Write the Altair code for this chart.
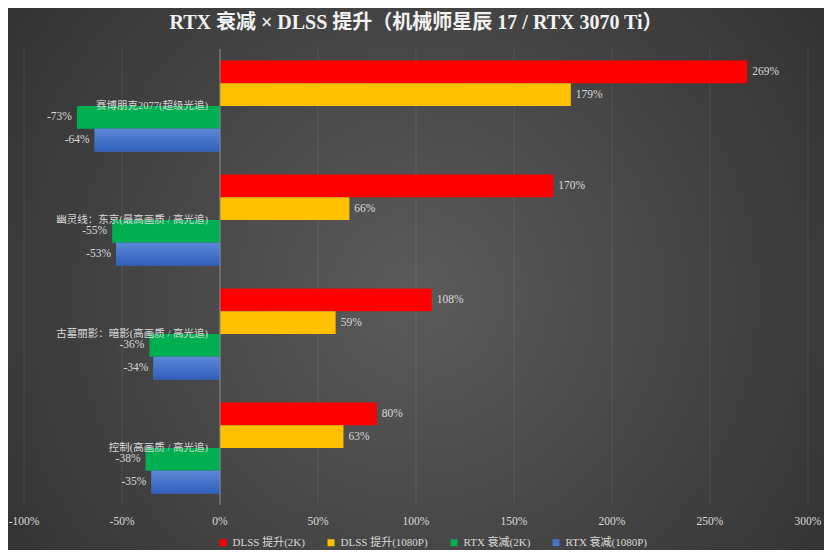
import altair as alt
import pandas as pd

title_text = "RTX 衰减 × DLSS 提升（机械师星辰 17 / RTX 3070 Ti）"
categories = [
    "赛博朋克2077(超级光追)",
    "幽灵线：东京(最高画质 / 高光追)",
    "古墓丽影：暗影(高画质 / 高光追)",
    "控制(高画质 / 高光追)",
]
series = ["DLSS 提升(2K)", "DLSS 提升(1080P)", "RTX 衰减(2K)", "RTX 衰减(1080P)"]
colors = ["#FF0000", "#FFC000", "#00B050", "#4472C4"]
dlss_2k = [269, 170, 108, 80]
dlss_1080p = [179, 66, 59, 63]
rtx_2k = [-73, -55, -36, -38]
rtx_1080p = [-64, -53, -34, -35]
ticks = [-100, -50, 0, 50, 100, 150, 200, 250, 300]
tick_labels = ["-100%", "-50%", "0%", "50%", "100%", "150%", "200%", "250%", "300%"]

W, H = 784, 456
FONT = "Liberation Serif, Noto Sans CJK SC"
TXT = "#d9d9d9"

rows = []
for s, vals in zip(series, [dlss_2k, dlss_1080p, rtx_2k, rtx_1080p]):
    for c, v in zip(categories, vals):
        rows.append({"cat": c, "series": s, "v": v, "label": f"{v}%",
                     "pos": v >= 0})
df = pd.DataFrame(rows)

xscale = alt.Scale(domain=[-100, 300], nice=False, zero=False)
yscale = alt.Scale(domain=categories, paddingInner=0.2, paddingOuter=0.1)
yoff = alt.YOffset("series:N", sort=series, scale=alt.Scale(domain=series, paddingInner=0))

bg = alt.Chart(pd.DataFrame({"a": [0]})).mark_rect(
    fill={"gradient": "radial", "x1": 0.5, "y1": 0.52, "r1": 0,
          "x2": 0.5, "y2": 0.52, "r2": 0.74,
          "stops": [{"offset": 0, "color": "#5b5b5b"},
                    {"offset": 1, "color": "#2a2a2a"}]}
).encode(x=alt.value(-16), x2=alt.value(W + 16), y=alt.value(-41), y2=alt.value(H + 45))

grid = alt.Chart(pd.DataFrame({"t": ticks})).mark_rule(
    color="#ffffff", opacity=0.09, strokeWidth=1
).encode(x=alt.X("t:Q", scale=xscale, axis=None), y=alt.value(0), y2=alt.value(H))

bars = alt.Chart(df).mark_bar(size=22.8).encode(
    x=alt.X("v:Q", scale=xscale, axis=None),
    x2=alt.datum(0),
    y=alt.Y("cat:N", sort=categories, scale=yscale, axis=None),
    yOffset=yoff,
    color=alt.Color("series:N", sort=series,
                    scale=alt.Scale(domain=series, range=colors),
                    legend=alt.Legend(
                        title=None, orient="none", direction="horizontal",
                        legendX=193.5, legendY=488, padding=0,
                        symbolType="square", symbolSize=49, symbolStrokeWidth=0,
                        labelFont=FONT, labelFontSize=11, labelColor=TXT,
                        labelOffset=4, columnPadding=20, zindex=1)),
)

blue = alt.Chart(df[df["series"] == series[3]]).mark_bar(
    fill={"gradient": "linear", "x1": 0, "y1": 0, "x2": 0, "y2": 1,
          "stops": [{"offset": 0, "color": "#5d88d8"},
                    {"offset": 1, "color": "#2f5fbb"}]}
).encode(
    x=alt.X("v:Q", scale=xscale, axis=None),
    x2=alt.datum(0),
    y=alt.Y("cat:N", sort=categories, scale=yscale, axis=None),
    yOffset=yoff,
)

zero = alt.Chart(pd.DataFrame({"t": [0]})).mark_rule(
    color="#8a8a8a", strokeWidth=1
).encode(x=alt.X("t:Q", scale=xscale, axis=None), y=alt.value(0), y2=alt.value(H))

pos_labels = alt.Chart(df[df["pos"]]).mark_text(
    align="left", baseline="middle", dx=5, font=FONT, fontSize=11.5, color=TXT
).encode(
    x=alt.X("v:Q", scale=xscale, axis=None),
    y=alt.Y("cat:N", sort=categories, scale=yscale, axis=None),
    yOffset=yoff, text="label:N",
)
neg_labels = alt.Chart(df[~df["pos"]]).mark_text(
    align="right", baseline="middle", dx=-5, font=FONT, fontSize=11.5, color=TXT
).encode(
    x=alt.X("v:Q", scale=xscale, axis=None),
    y=alt.Y("cat:N", sort=categories, scale=yscale, axis=None),
    yOffset=yoff, text="label:N",
)

cat_labels = alt.Chart(pd.DataFrame({"cat": categories, "z": [0] * 4})).mark_text(
    align="right", baseline="middle", dx=-12, font=FONT, fontSize=10.5, color=TXT
).encode(
    x=alt.X("z:Q", scale=xscale, axis=None),
    y=alt.Y("cat:N", sort=categories, scale=yscale, axis=None),
    text="cat:N",
)

axis_labels = alt.Chart(pd.DataFrame({"t": ticks, "lab": tick_labels})).mark_text(
    align="center", baseline="middle", font=FONT, fontSize=11.5, color=TXT
).encode(x=alt.X("t:Q", scale=xscale, axis=None), y=alt.value(473), text="lab:N")

title = alt.Chart(pd.DataFrame({"t": [title_text]})).mark_text(
    align="center", baseline="middle", font=FONT, fontSize=20, fontWeight="bold",
    color="#f2f2f2"
).encode(x=alt.value(W / 2), y=alt.value(-26), text="t:N")

chart = alt.layer(
    bg, grid, bars, blue, zero, pos_labels, neg_labels, cat_labels, axis_labels, title
).properties(
    width=W, height=H,
    autosize=alt.AutoSizeParams(type="none"),
    padding={"left": 16, "top": 41, "right": 16, "bottom": 45},
    background="#2a2a2a",
).configure_view(stroke=None)

chart.save("out.html", embed_options={"renderer": "svg", "actions": False})
